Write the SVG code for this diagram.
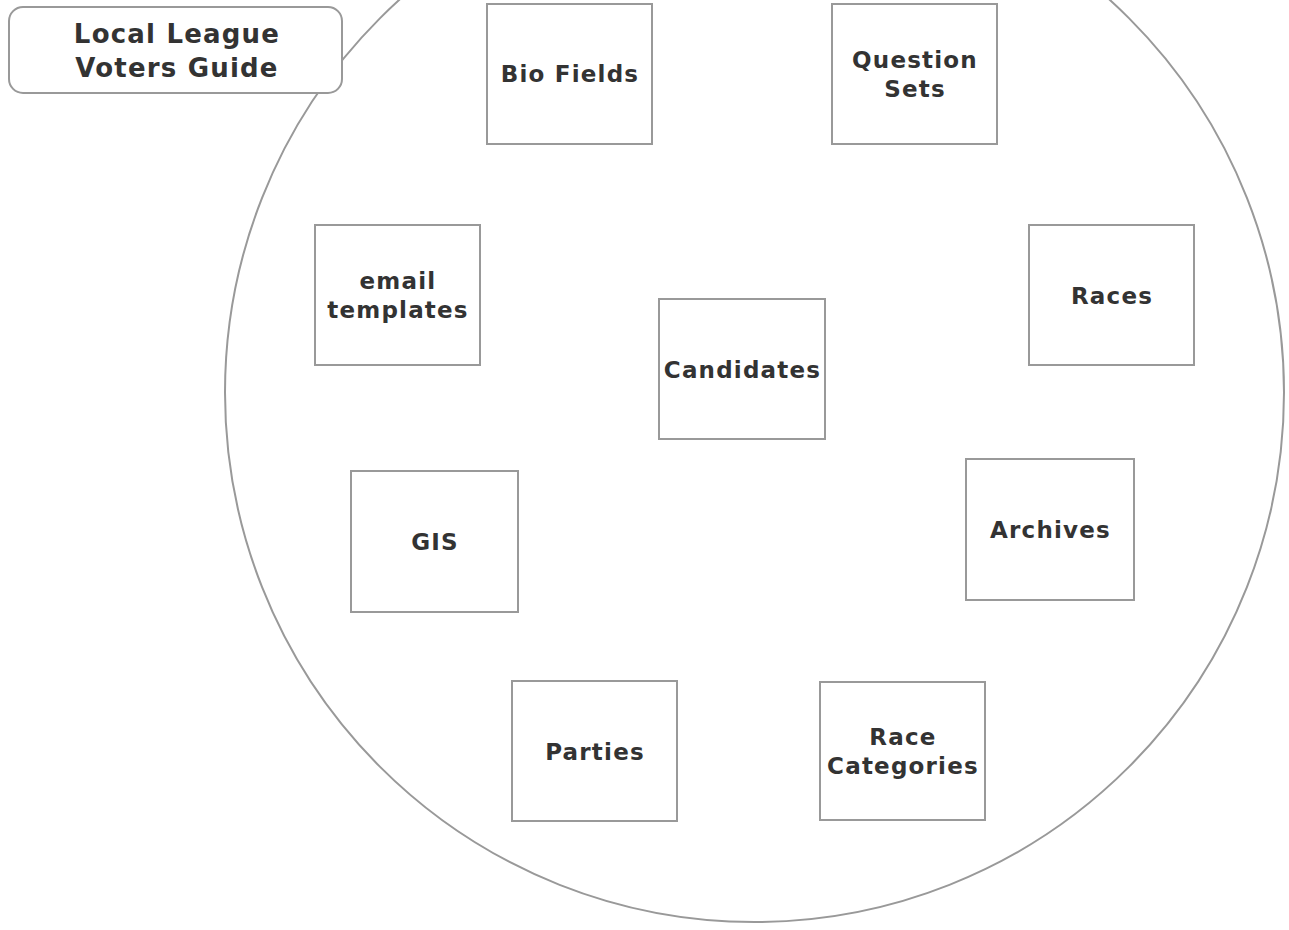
<svg xmlns="http://www.w3.org/2000/svg" width="1289" height="930" viewBox="0 0 1289 930">
<style>
.n{fill:#fff;stroke:#999;stroke-width:2}
.t{font-family:"DejaVu Sans",Verdana,sans-serif;font-weight:bold;font-size:23px;letter-spacing:1.2px;fill:#333;text-anchor:middle}
.h{font-size:26px}
</style>
<rect width="1289" height="930" fill="#fff"/>
<g id="boundary"><circle cx="754.5" cy="392.5" r="529.5" fill="none" stroke="#999" stroke-width="2"/></g>
<g id="connectors"></g>
<g id="title"><rect class="n" x="9" y="7" width="333" height="86" rx="14"/><text class="t h" x="177" y="43">Local League</text><text class="t h" x="177" y="77">Voters Guide</text></g>
<g id="bio"><rect class="n" x="487" y="4" width="165" height="140"/><text class="t" x="570" y="82">Bio Fields</text></g>
<g id="qsets"><rect class="n" x="832" y="4" width="165" height="140"/><text class="t" x="915" y="68">Question</text><text class="t" x="915" y="97">Sets</text></g>
<g id="email"><rect class="n" x="315" y="225" width="165" height="140"/><text class="t" x="398" y="289">email</text><text class="t" x="398" y="318">templates</text></g>
<g id="races"><rect class="n" x="1029" y="225" width="165" height="140"/><text class="t" x="1112" y="304">Races</text></g>
<g id="candidates"><rect class="n" x="659" y="299" width="166" height="140"/><text class="t" x="742.5" y="378">Candidates</text></g>
<g id="gis"><rect class="n" x="351" y="471" width="167" height="141"/><text class="t" x="435" y="550">GIS</text></g>
<g id="archives"><rect class="n" x="966" y="459" width="168" height="141"/><text class="t" x="1050.5" y="538">Archives</text></g>
<g id="parties"><rect class="n" x="512" y="681" width="165" height="140"/><text class="t" x="595" y="760">Parties</text></g>
<g id="racecat"><rect class="n" x="820" y="682" width="165" height="138"/><text class="t" x="903" y="745">Race</text><text class="t" x="903" y="774">Categories</text></g>
</svg>
